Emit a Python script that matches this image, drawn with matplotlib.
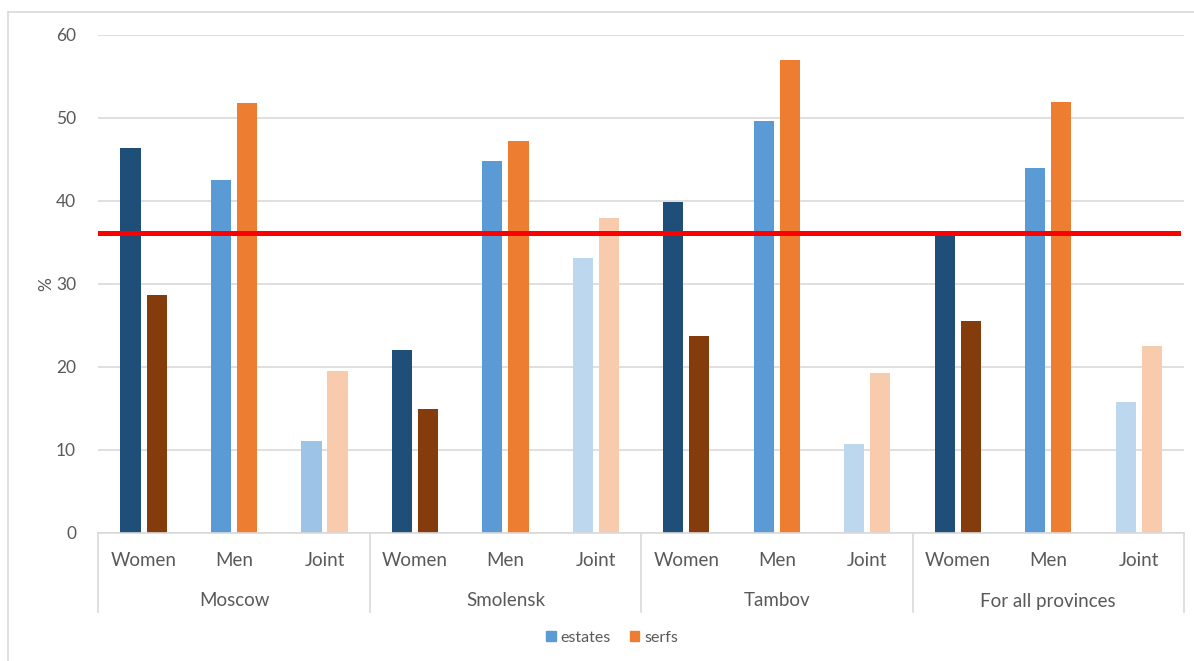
import matplotlib
matplotlib.use("Agg")
import matplotlib.pyplot as plt
from matplotlib.lines import Line2D
from matplotlib.patches import Patch
import numpy as np

plt.rcParams['font.family'] = ['Lato', 'DejaVu Sans']

# data
provinces = ['Moscow', 'Smolensk', 'Tambov', 'For all provinces']
owners = ['Women', 'Men', 'Joint']
estates = [46.4, 42.5, 11.0,
           22.0, 44.8, 33.1,
           39.8, 49.6, 10.7,
           36.0, 43.9, 15.7]
serfs = [28.6, 51.8, 19.5,
         14.9, 47.2, 37.9,
         23.7, 57.0, 19.3,
         25.5, 51.9, 22.5]
average_line = 36.1

estate_colors = {'Women': '#1F4E79', 'Men': '#5B9BD5', 'Joint': '#BDD7EE'}
serf_colors = {'Women': '#843C0C', 'Men': '#ED7D31', 'Joint': '#F8CBAD'}
text_color = '#595959'
grid_color = '#D9D9D9'

W, H = 1194, 661
fig = plt.figure(figsize=(W / 100, H / 100), dpi=100)
left, right, bottom, top = 98.3, 1184, 532.7, 34.7
ax = fig.add_axes([left / W, 1 - bottom / H, (right - left) / W, (bottom - top) / H])

n = len(estates)
x = np.arange(n)
bw = 0.222
off = 0.144
cat_labels = [o for p in provinces for o in owners]
for i in range(n):
    o = cat_labels[i]
    ec = estate_colors[o]
    if i == 2:
        ec = '#9DC3E6'
    ax.bar(x[i] - off, estates[i], bw, color=ec, zorder=2)
    ax.bar(x[i] + off, serfs[i], bw, color=serf_colors[o], zorder=2)

ax.axhline(average_line, xmin=0, xmax=0.9945, color='#FF0000', lw=3.6, zorder=3)

ax.set_xlim(-0.5, n - 0.5)
ax.set_ylim(0, 60)
ax.set_yticks(range(0, 61, 10))
ax.grid(axis='y', color=grid_color, lw=1.2, zorder=0)
for s in ['top', 'right', 'left']:
    ax.spines[s].set_visible(False)
ax.spines['bottom'].set_color(grid_color)
ax.spines['bottom'].set_linewidth(1.2)
ax.tick_params(axis='y', length=0, pad=16, labelsize=12.5, labelcolor=text_color)
ax.tick_params(axis='x', length=0)
ax.set_xticks([])
ax.set_ylabel('%', color=text_color, fontsize=12.5, labelpad=1)

# multi-level category axis
ah = bottom - top
trans = ax.get_xaxis_transform()
for i, lab in enumerate(cat_labels):
    ax.text(x[i], -(560 - bottom) / ah, lab, transform=trans, ha='center', va='center',
            fontsize=13.5, color=text_color)
for g, p in enumerate(provinces):
    ax.text(g * 3 + 1, -(601 - bottom) / ah, p, transform=trans, ha='center', va='center',
            fontsize=13.5, color=text_color)
for g in range(len(provinces) + 1):
    ax.plot([g * 3 - 0.5] * 2, [0, -(612 - bottom) / ah], transform=trans,
            color=grid_color, lw=1.2, clip_on=False)

# legend
handles = [Patch(color='#5B9BD5'), Patch(color='#ED7D31')]
fig.legend(handles, ['estates', 'serfs'], loc='center', bbox_to_anchor=(612 / W, 1 - 638 / H),
           ncol=2, frameon=False, fontsize=11.5, handlelength=0.6, handleheight=0.6,
           handletextpad=0.3, columnspacing=1.2, labelcolor=text_color)

# chart border
fig.add_artist(Line2D([8 / W, 8 / W], [0, 1 - 12 / H], color=grid_color, lw=1.2))
fig.add_artist(Line2D([8 / W, 1], [1 - 12 / H, 1 - 12 / H], color=grid_color, lw=1.2))

fig.savefig('out.png', dpi=100)
